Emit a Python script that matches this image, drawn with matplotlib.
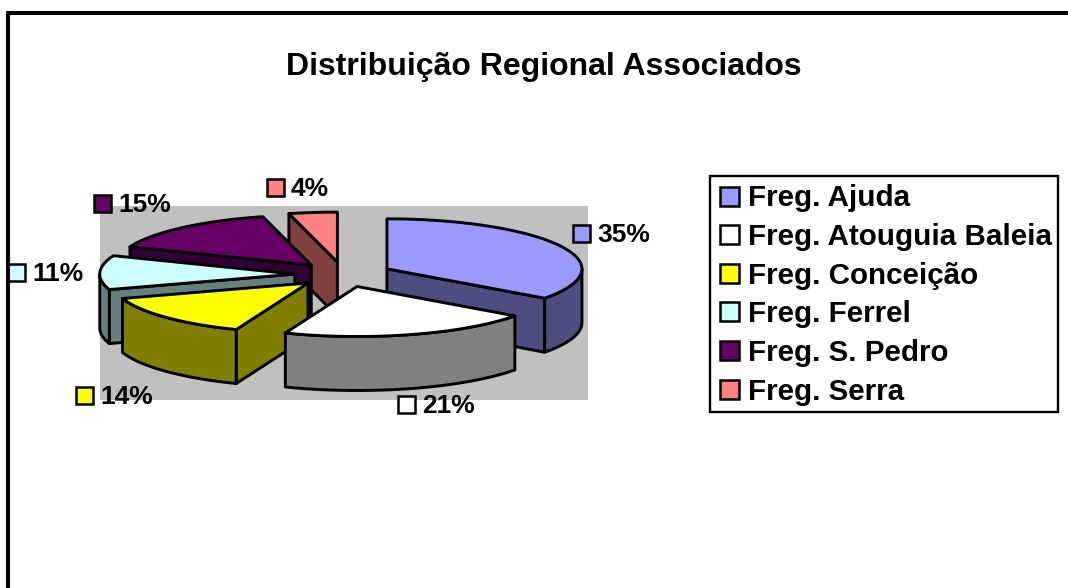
"""Distribuição Regional Associados: exploded 3-D pie, drawn in pixel coordinates."""
import matplotlib

matplotlib.use("Agg")
import matplotlib.pyplot as plt
import numpy as np
from matplotlib.patches import Polygon, Rectangle

plt.rcParams["font.family"] = ["Liberation Sans", "DejaVu Sans"]

TITLE = "Distribuição Regional Associados"
categories = ["Freg. Ajuda", "Freg. Atouguia Baleia", "Freg. Conceição",
              "Freg. Ferrel", "Freg. S. Pedro", "Freg. Serra"]
values = [35, 21, 14, 11, 15, 4]
top_colors = ["#9999FF", "#FFFFFF", "#FFFF00", "#CCFFFF", "#660066", "#FF8080"]
side_colors = ["#4D4D80", "#808080", "#808000", "#668080", "#330033", "#804040"]

# left edge of each value label's swatch and its baseline
label_x = [573, 398, 76, 8, 94, 267]
label_base = [242, 413, 404, 281, 212, 196]

# painter's order, back to front
draw_order = [5, 0, 4, 3, 2, 1]

CX, CY = 343.5, 274.5
RX, RY = 195, 50
DEPTH = 54
EXPLODE = 0.25
LW = 2.1


def rim(cx, cy, deg):
    """Clockwise from 12 o'clock, squashed to the pie's ellipse."""
    t = np.radians(deg)
    return np.column_stack([cx + RX * np.sin(t), cy - RY * np.cos(t)])


def poly(ax, pts, color):
    ax.add_patch(Polygon(pts, closed=True, facecolor=color, edgecolor="black",
                         lw=LW, joinstyle="round"))


def draw_slice(ax, start, end, top, side):
    mid = np.radians((start + end) / 2)
    cx = CX + EXPLODE * RX * np.sin(mid)
    cy = CY - EXPLODE * RY * np.cos(mid)
    apex = np.array([[cx, cy]])
    down = np.array([0, DEPTH])

    # cut faces turned towards the viewer
    if np.sin(np.radians(start)) < -1e-6:
        edge = np.vstack([apex, rim(cx, cy, [start])])
        poly(ax, np.vstack([edge, edge[::-1] + down]), side)
    if np.sin(np.radians(end)) > 1e-6:
        edge = np.vstack([apex, rim(cx, cy, [end])])
        poly(ax, np.vstack([edge, edge[::-1] + down]), side)

    # outer wall, front half of the ellipse only
    lo, hi = max(start, 90), min(end, 270)
    if lo < hi:
        arc = rim(cx, cy, np.linspace(lo, hi, 60))
        poly(ax, np.vstack([arc, arc[::-1] + down]), side)

    arc = rim(cx, cy, np.linspace(start, end, 80))
    poly(ax, np.vstack([apex, arc]), top)


def main():
    fig = plt.figure(figsize=(10.68, 5.88), dpi=100)
    ax = fig.add_axes([0, 0, 1, 1])
    ax.set_xlim(0, 1068)
    ax.set_ylim(588, 0)
    ax.axis("off")

    # chart frame, only its top and left sides are in the picture
    ax.plot([8, 8, 1068], [588, 13, 13], color="black", lw=2.9,
            solid_joinstyle="miter", zorder=10)

    ax.text(544, 75, TITLE, ha="center", va="baseline", fontsize=23,
            fontweight="bold")

    ax.add_patch(Rectangle((100, 206), 488, 194, facecolor="#C0C0C0",
                           edgecolor="none"))

    edges = np.concatenate([[0], np.cumsum(values)]) / sum(values) * 360
    for i in draw_order:
        draw_slice(ax, edges[i], edges[i + 1], top_colors[i], side_colors[i])

    # value labels
    for i, val in enumerate(values):
        ax.add_patch(Rectangle((label_x[i], label_base[i] - 17), 17, 17,
                               facecolor=top_colors[i], edgecolor="black", lw=1.8))
        ax.text(label_x[i] + 24, label_base[i], f"{val}%", ha="left",
                va="baseline", fontsize=19, fontweight="bold")

    # legend
    ax.add_patch(Rectangle((710, 176), 348, 236, facecolor="white",
                           edgecolor="black", lw=1.7))
    for i, name in enumerate(categories):
        y = 186.5 + 38.6 * i
        ax.add_patch(Rectangle((720, y), 19, 19, facecolor=top_colors[i],
                               edgecolor="black", lw=1.8))
        ax.text(748, y + 20, name, ha="left", va="baseline", fontsize=21.3,
                fontweight="bold")

    fig.savefig("out.png", dpi=100)


if __name__ == "__main__":
    main()
